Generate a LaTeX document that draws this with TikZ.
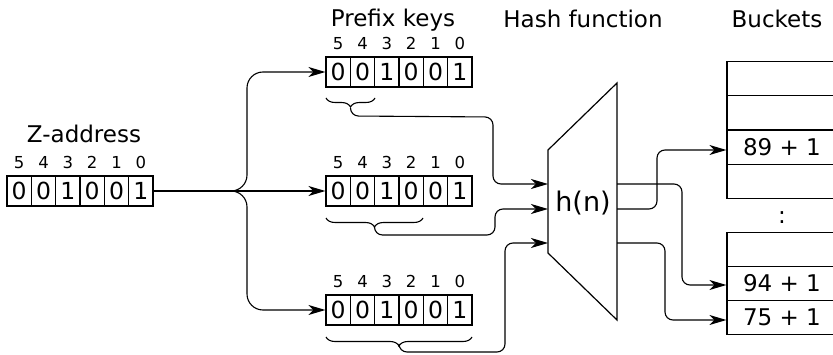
\documentclass[tikz,border=0pt]{standalone}
\usepackage{fontspec}
\setmainfont{DejaVu Sans}
\usetikzlibrary{arrows.meta,decorations.pathreplacing}

\newcommand\txtfont{\fontsize{23}{27}\selectfont}
\newcommand\bitfont{\fontsize{23.5}{28}\selectfont}
\newcommand\idxfont{\fontsize{16.5}{19}\selectfont}
\newcommand\hashfont{\fontsize{27}{32}\selectfont}

% six-bit register: name, left x, centre y
\newcommand\bitregister[3]{%
  \foreach \b/\v [count=\k from 0] in {5/0,4/0,3/1,2/0,1/0,0/1}{
    \node[cell] (#1-\b) at ({#2+12.1667+\k*24.3333},#3) {\v};
    \node[idx] (#1-i\b) at ({#2+12.1667+\k*24.3333},{#3-22}) {\b};
  }%
}

\tikzset{
  cell/.style={draw, line width=1.2pt, minimum width=24.3333pt, minimum height=30pt,
               inner sep=0pt, font=\bitfont},
  idx/.style={anchor=base, inner sep=0pt, font=\idxfont},
  title/.style={anchor=base, inner sep=0pt, font=\txtfont},
  slot/.style={draw, line width=1.2pt, minimum width=110pt, inner sep=0pt,
               anchor=north, font=\txtfont},
  tip/.style={-{Stealth[length=17pt, width=10pt, inset=5pt]}},
  arr/.style={line width=1.1pt, rounded corners=8pt, tip},
  wideconn/.style={line width=1.1pt, rounded corners=16pt, tip},
  keybrace/.style={line width=1.1pt, decorate,
                   decoration={brace, mirror, amplitude=9pt}},
}

\begin{document}
\begin{tikzpicture}[x=1pt, y=-1pt]
\useasboundingbox (0,0) rectangle (833,355);
\clip (0,0) rectangle (833,355);

% titles
\node[title] (tz) at (84,143) {Z-address};
\node[title] (tp) at (393,27) {Prefix keys};
\node[title] (th) at (583,28) {Hash function};
\node[title] (tb) at (777,28) {Buckets};

% registers
\bitregister{z}{7}{191}
\bitregister{pa}{326}{72}
\bitregister{pb}{326}{191}
\bitregister{pc}{326}{310}

% fan-out from the Z-address to the three prefix keys
\draw[wideconn] (z-0.east) -- (247,191) -- (247,72) -- (pa-5.west);
\draw[wideconn] (z-0.east) -- (pb-5.west);
\draw[wideconn] (z-0.east) -- (247,191) -- (247,310) -- (pc-5.west);

% braces marking the prefix bits
\draw[keybrace] (326,98) -- (375,98) coordinate[midway] (ba);
\draw[keybrace] (326,218) -- (423,218) coordinate[midway] (bb);
\draw[keybrace] (326,337) -- (472,337) coordinate[midway] (bc);
\coordinate (ta) at (350.5,108);
\coordinate (tb2) at (374.5,228);
\coordinate (tc) at (399,347);

% hash function block
\draw[line width=1.2pt] (548,150) -- (617,83) -- (617,320) -- (548,253) -- cycle;
\node[inner sep=0pt, font=\hashfont] (hash) at (583,203) {h(n)};
\coordinate (in1) at (548,184);
\coordinate (in2) at (548,209);
\coordinate (in3) at (548,243);
\coordinate (out1) at (617,184);
\coordinate (out2) at (617,209);
\coordinate (out3) at (617,243);

% prefixes into the hash function
\draw[arr] (ta) -- (350.5,116) -- (493,117) -- (493,184) -- (in1);
\draw[arr] (tb2) -- (374.5,235) -- (495,235) -- (495,209) -- (in2);
\draw[arr] (tc) -- (399,352) -- (505,352) -- (505,243) -- (in3);

% buckets
\node[slot, minimum height=34.25pt] (b1) at (782,61) {};
\node[slot, minimum height=34.25pt] (b2) at (782,95.25) {};
\node[slot, minimum height=34.25pt] (b3) at (782,129.5) {89 + 1};
\node[slot, minimum height=34.25pt] (b4) at (782,163.75) {};
\node[inner sep=0pt, font=\txtfont] (dots) at (782,218) {:};
\node[slot, minimum height=34pt] (c1) at (782,232) {};
\node[slot, minimum height=34pt] (c2) at (782,266) {94 + 1};
\node[slot, minimum height=34pt] (c3) at (782,300) {75 + 1};

% hash outputs into the buckets
\draw[arr] (out1) -- (682,184) -- (682,285) -- (c2.west |- 0,285);
\draw[arr] (out2) -- (657,209) -- (657,150) -- (b3.west |- 0,150);
\draw[arr] (out3) -- (665,243) -- (665,320) -- (c3.west |- 0,320);
\end{tikzpicture}
\end{document}
